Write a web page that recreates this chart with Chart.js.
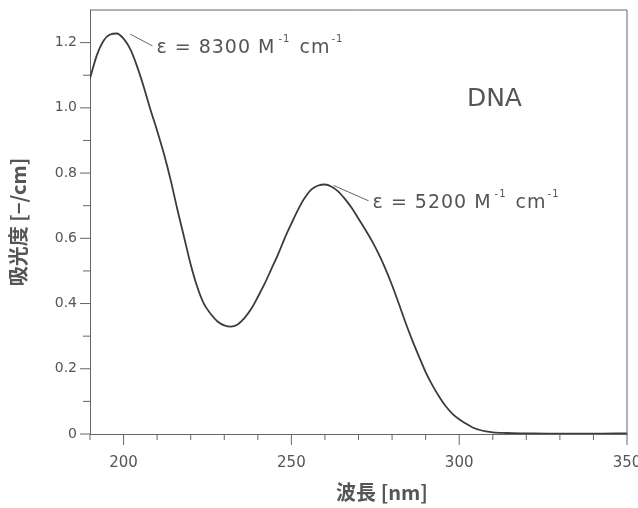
<!DOCTYPE html>
<html>
<head>
<meta charset="utf-8">
<script src="https://cdn.jsdelivr.net/npm/chart.js@4.4.1/dist/chart.umd.min.js"></script>
<style>
  html, body { margin: 0; padding: 0; background: #fff; }
  #wrap { width: 638px; height: 508px; position: relative; }
</style>
</head>
<body>
<div id="wrap"><canvas id="dnaChart"></canvas></div>
<script>
// wavelength [nm] and absorbance
const wavelengths = [190, 192, 194, 196, 198, 200, 202, 204, 206, 208, 210, 212, 214, 216, 218, 220, 222, 224, 226, 228, 230, 232, 234, 236, 238, 240, 242, 244, 246, 248, 250, 252, 254, 256, 258, 260, 262, 264, 266, 268, 270, 272, 274, 276, 278, 280, 282, 284, 286, 288, 290, 292, 294, 296, 298, 300, 302, 304, 306, 308, 310, 314, 320, 330, 340, 350];
const absorbance  = [1.09, 1.16, 1.205, 1.225, 1.228, 1.212, 1.18, 1.128, 1.065, 0.995, 0.93, 0.86, 0.78, 0.69, 0.605, 0.52, 0.45, 0.398, 0.368, 0.345, 0.333, 0.329, 0.336, 0.355, 0.383, 0.42, 0.46, 0.505, 0.55, 0.6, 0.645, 0.688, 0.724, 0.75, 0.762, 0.765, 0.758, 0.743, 0.72, 0.693, 0.66, 0.627, 0.592, 0.552, 0.507, 0.456, 0.4, 0.342, 0.288, 0.238, 0.19, 0.15, 0.115, 0.085, 0.062, 0.045, 0.032, 0.02, 0.013, 0.008, 0.005, 0.003, 0.002, 0.001, 0.001, 0.002];

const xTickLabels = [200, 250, 300, 350];
const yTickLabels = [0, 0.2, 0.4, 0.6, 0.8, 1.0, 1.2];

// peak notes: [leader start x, y, leader end x, y, epsilon]
const peakNotes = [
    [202.0, 1.226, 208.6, 1.19, "8300"],
    [262.6, 0.762, 273.0, 0.715, "5200"]
];
const sampleName = "DNA";
const xTitle = "波長 [nm]";
const yTitle = "吸光度 [−/cm]";

const ink = "#555555";
const fontFamily = "'DejaVu Sans', 'Noto Sans CJK JP', sans-serif";
const cjkFamily = "'Noto Sans CJK JP', 'DejaVu Sans', sans-serif";

// draw ε = xxxx M^-1 cm^-1 with raised exponents
function drawEpsilon(ctx, x, y, value) {
    const big = "19px " + fontFamily;
    const small = "10px " + fontFamily;
    // [text, font, raise, gap before]
    const parts = [["ε = " + value + " M", big, 0, 0], ["-1", small, -8, 3], ["cm", big, 0, 9], ["-1", small, -8, 1]];
    ctx.textBaseline = "middle";
    ctx.textAlign = "left";
    ctx.letterSpacing = "1px";
    parts.forEach(p => {
        ctx.font = p[1];
        x += p[3];
        ctx.fillText(p[0], x, y + p[2]);
        x += ctx.measureText(p[0]).width;
    });
    ctx.letterSpacing = "0px";
}

const decorations = {
    id: "decorations",
    afterDraw(chart) {
        const ctx = chart.ctx;
        const xs = chart.scales.x, ys = chart.scales.y;
        const area = chart.chartArea;
        ctx.save();
        ctx.strokeStyle = "#666";
        ctx.fillStyle = ink;
        ctx.lineWidth = 1;

        // frame top and right
        ctx.beginPath();
        ctx.moveTo(area.left, area.top);
        ctx.lineTo(area.right, area.top);
        ctx.lineTo(area.right, area.bottom);
        ctx.stroke();

        // x ticks, every 10 nm, longer at labelled ones
        for (let v = 190; v <= 350; v += 10) {
            const px = xs.getPixelForValue(v);
            const len = xTickLabels.includes(v) ? 11 : 6;
            ctx.beginPath();
            ctx.moveTo(px, area.bottom);
            ctx.lineTo(px, area.bottom + len);
            ctx.stroke();
        }
        // y ticks, every 0.1
        for (let i = 0; i <= 12; i++) {
            const py = ys.getPixelForValue(i / 10);
            const len = i % 2 === 0 ? 10 : 7;
            ctx.beginPath();
            ctx.moveTo(area.left - len, py);
            ctx.lineTo(area.left, py);
            ctx.stroke();
        }

        // leader lines and epsilon notes
        peakNotes.forEach(n => {
            ctx.beginPath();
            ctx.moveTo(xs.getPixelForValue(n[0]), ys.getPixelForValue(n[1]));
            ctx.lineTo(xs.getPixelForValue(n[2]), ys.getPixelForValue(n[3]));
            ctx.stroke();
            drawEpsilon(ctx, xs.getPixelForValue(n[2]) + 4, ys.getPixelForValue(n[3]) + 2, n[4]);
        });

        // sample name
        ctx.font = "25px " + fontFamily;
        ctx.textAlign = "center";
        ctx.textBaseline = "middle";
        ctx.fillText(sampleName, xs.getPixelForValue(310.5), ys.getPixelForValue(1.027));

        // x axis title, set a little right of centre as in the print
        ctx.font = "bold 20px " + cjkFamily;
        ctx.fillText(xTitle, xs.getPixelForValue(277), area.bottom + 58);
        ctx.restore();
    }
};

const ctx = document.getElementById("dnaChart").getContext("2d");
new Chart(ctx, {
    type: "line",
    data: {
        datasets: [{
            data: wavelengths.map((w, i) => ({ x: w, y: absorbance[i] })),
            borderColor: "#3c3c3c",
            borderWidth: 1.8,
            pointRadius: 0,
            cubicInterpolationMode: "monotone",
            fill: false
        }]
    },
    options: {
        responsive: true,
        maintainAspectRatio: false,
        animation: false,
        layout: { padding: { top: 10, right: 11, left: 0, bottom: 0 } },
        plugins: { legend: { display: false }, tooltip: { enabled: false } },
        scales: {
            x: {
                type: "linear",
                min: 190,
                max: 350,
                afterFit: s => { s.height = 74; s.paddingLeft = 0; s.paddingRight = 0; },
                afterBuildTicks: s => { s.ticks = xTickLabels.map(v => ({ value: v })); },
                grid: { display: false, drawTicks: false },
                border: { display: true, color: "#666", width: 1 },
                ticks: { color: ink, padding: 20, font: { size: 15, family: fontFamily } }
            },
            y: {
                min: 0,
                max: 1.3,
                afterFit: s => { s.width = 90; s.paddingTop = 0; s.paddingBottom = 0; },
                afterBuildTicks: s => { s.ticks = yTickLabels.map(v => ({ value: v })); },
                grid: { display: false, drawTicks: false },
                border: { display: true, color: "#666", width: 1 },
                ticks: {
                    color: ink, padding: 13,
                    font: { size: 14, family: fontFamily },
                    callback: v => v === 0 ? "0" : v.toFixed(1)
                },
                title: { display: true, text: yTitle, color: ink, padding: { top: 6, bottom: 0 }, font: { size: 20, weight: "bold", family: cjkFamily } }
            }
        }
    },
    plugins: [decorations]
});
</script>
</body>
</html>
